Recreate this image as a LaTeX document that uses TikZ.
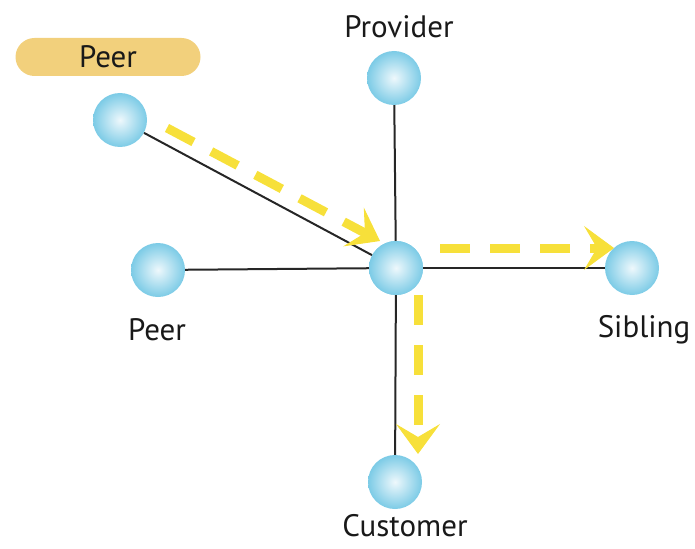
\documentclass[tikz,border=0pt]{standalone}
\usepackage{fontspec}
\setmainfont{PT Sans}
\usetikzlibrary{arrows.meta}

\definecolor{ballin}{HTML}{EEF8FC}
\definecolor{ballout}{HTML}{7CCBE6}
\definecolor{routeyellow}{HTML}{F7E03A}
\definecolor{pillcolor}{HTML}{F2D07C}

\tikzset{
  as/.style={circle, minimum size=54pt, inner sep=0pt, shade, inner color=ballin, outer color=ballout},
  link/.style={line width=2pt, black!85},
  route/.style={line width=9pt, routeyellow, dash pattern=on 30pt off 20pt,
    -{Stealth[length=30pt, width=44pt, inset=13pt, line width=1pt 0]}},
  lbl/.style={font=\fontsize{31}{36}\selectfont, text=black!90}
}

\begin{document}
\begin{tikzpicture}[x=1pt, y=-1pt]
  \useasboundingbox (0,0) rectangle (695,548);

  % Draw the autonomous systems
  \node[as] (hub) at (396,268) {};
  \node[as] (provider) at (394,78) {};
  \node[as] (peertop) at (120,120) {};
  \node[as] (peerleft) at (158,270) {};
  \node[as] (sibling) at (632,268) {};
  \node[as] (customer) at (395,482) {};

  % Draw the links from the hub
  \draw[link] (hub) -- (provider);
  \draw[link] (hub) -- (peertop);
  \draw[link] (hub) -- (peerleft);
  \draw[link] (hub) -- (sibling);
  \draw[link] (hub) -- (customer);
  \node[as] at (hub) {};

  % Draw the labels
  \node[lbl] (lprovider) at (399,27) {Provider};
  \node[lbl] (lpeerleft) at (157,330) {Peer};
  \node[lbl] (lsibling) at (644,330) {Sibling};
  \node[lbl] (lcustomer) at (405,526) {Customer};
  \node[lbl, fill=pillcolor, rounded corners=19pt, minimum width=185pt, minimum height=38pt, inner sep=0pt] (lpeertop) at (108,57) {Peer};

  % Draw the yellow route arrows
  \draw[route] ([shift={(47,8)}]peertop.center) -- ([shift={(-16,-27)}]hub.center);
  \draw[route] ([shift={(44,-20)}]hub.center) -- ([shift={(-18,-20)}]sibling.center);
  \draw[route] ([shift={(22,27)}]hub.center) -- ([shift={(23,-28)}]customer.center);

\end{tikzpicture}
\end{document}
